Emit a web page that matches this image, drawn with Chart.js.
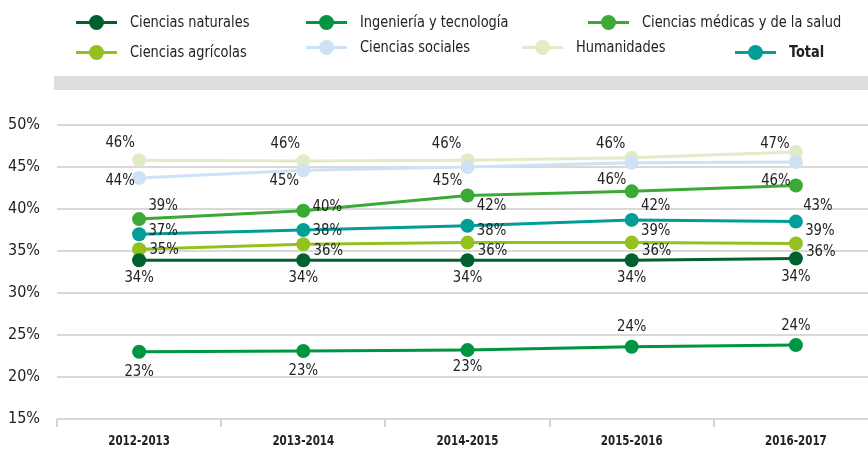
<!DOCTYPE html>
<html lang="es">
<head>
<meta charset="UTF-8">
<title>Porcentaje por área de conocimiento</title>
<style>
  body { margin:0; background:#fff; overflow:hidden; font-family:'DejaVu Sans Condensed','Liberation Sans',sans-serif; }
  .wrap { position:relative; width:868px; height:451px; overflow:hidden; }
  .chart { position:absolute; left:0; top:0; width:885px; height:451px; }
  .band { position:absolute; left:54px; top:76px; width:820px; height:14px; background:#dcdedd; }
  .lg { position:absolute; font-size:16px; color:#222; white-space:nowrap; line-height:18px; }
  .lg span { display:inline-block; transform:scaleX(0.9); transform-origin:left center; }
  .lg i { position:absolute; left:-54px; top:8px; width:41px; height:3px; }
  .lg i:after { content:''; position:absolute; left:13px; top:-6px; width:15px; height:15px; border-radius:50%; background:inherit; }
  .lg.bold { font-weight:bold; }
</style>
</head>
<body>
<div class="wrap">
  <div class="chart"><canvas id="c"></canvas></div>
  <div class="band"></div>
  <div id="legend"></div>
</div>
<script src="https://cdn.jsdelivr.net/npm/chart.js"></script>
<script>
// datos (% por periodo)
const categories = ['2012-2013','2013-2014','2014-2015','2015-2016','2016-2017'];
const naturales   = [33.9, 33.9, 33.9, 33.9, 34.1];
const ingenieria  = [23.0, 23.1, 23.2, 23.6, 23.8];
const medicas     = [38.8, 39.8, 41.6, 42.1, 42.8];
const agricolas   = [35.2, 35.8, 36.0, 36.0, 35.9];
const sociales    = [43.7, 44.6, 45.0, 45.5, 45.6];
const humanidades = [45.8, 45.7, 45.8, 46.1, 46.8];
const total       = [37.0, 37.5, 38.0, 38.7, 38.5];
const yTicks = [15, 20, 25, 30, 35, 40, 45, 50];

const series = [
  { label:'Ciencias sociales', data:sociales, color:'#cfe2f3',
    off:[[-19,3],[-19,10],[-20,14],[-20,17],[-20,19]], lx:360, ly:38 },
  { label:'Humanidades', data:humanidades, color:'#e2ebc8',
    off:[[-19,-17],[-18,-17],[-21,-16],[-21,-14],[-21,-8]], lx:576, ly:38 },
  { label:'Ciencias naturales', data:naturales, color:'#00612f',
    off:[[0,18],[0,18],[0,18],[0,18],[0,18]], lx:130, ly:13 },
  { label:'Ciencias agrícolas', data:agricolas, color:'#95c11f',
    off:[[25,1],[25,7],[25,8],[25,8],[25,8]], lx:130, ly:43 },
  { label:'Total', data:total, color:'#009e97', bold:true,
    off:[[24,-3],[24,1],[24,5],[24,11],[24,9]], lx:789, ly:43 },
  { label:'Ciencias médicas y de la salud', data:medicas, color:'#3aaa35',
    off:[[24,-13],[24,-4],[24,10],[24,14],[22,20]], lx:642, ly:13 },
  { label:'Ingeniería y tecnología', data:ingenieria, color:'#009540',
    off:[[0,20],[0,20],[0,17],[0,-20],[0,-19]], lx:360, ly:13 }
];

// leyenda en HTML
const legend = document.getElementById('legend');
series.forEach(s => {
  const d = document.createElement('div');
  d.className = 'lg' + (s.bold ? ' bold' : '');
  d.style.left = s.lx + 'px';
  d.style.top = s.ly + 'px';
  d.innerHTML = '<i style="background:' + s.color + '"></i><span>' + s.label + '</span>';
  legend.appendChild(d);
});

const FONT = "'DejaVu Sans Condensed','Liberation Sans',sans-serif";

// texto estrecho (simula fuente condensada)
function narrowText(ctx, txt, x, y, sx) {
  ctx.save();
  ctx.translate(x, y);
  ctx.scale(sx, 1);
  ctx.fillText(txt, 0, 0);
  ctx.restore();
}

// etiquetas de valor y del eje x
const valueLabels = {
  id:'valueLabels',
  afterDatasetsDraw(chart) {
    const ctx = chart.ctx;
    ctx.save();
    ctx.fillStyle = '#222';
    ctx.textAlign = 'center';
    ctx.textBaseline = 'middle';
    ctx.font = '16px ' + FONT;
    chart.data.datasets.forEach((ds, i) => {
      const meta = chart.getDatasetMeta(i);
      meta.data.forEach((pt, j) => {
        const o = series[i].off[j];
        narrowText(ctx, Math.round(ds.data[j]) + '%', pt.x + o[0], pt.y + o[1], 0.92);
      });
    });
    const xs = chart.scales.x;
    ctx.font = 'bold 14px ' + FONT;
    categories.forEach((c, k) => {
      narrowText(ctx, c, xs.getPixelForTick(k), xs.top + 22, 0.82);
    });
    ctx.restore();
  }
};

new Chart(document.getElementById('c'), {
  type:'line',
  data:{
    labels:categories,
    datasets:series.map(s => ({
      label:s.label, data:s.data,
      borderColor:s.color, backgroundColor:s.color,
      pointBackgroundColor:s.color, pointBorderWidth:0,
      borderWidth:3, pointRadius:7, pointHoverRadius:7, tension:0
    }))
  },
  options:{
    responsive:true, maintainAspectRatio:false, animation:false,
    layout:{ padding:{ top:125, left:0, right:0, bottom:0 } },
    plugins:{ legend:{ display:false }, tooltip:{ enabled:false } },
    scales:{
      x:{
        offset:true,
        grid:{ offset:true, drawOnChartArea:false, drawTicks:true, tickLength:8, color:'#d4d4d4', lineWidth:2 },
        border:{ display:false },
        ticks:{ display:false },
        afterFit(scale){ scale.height = 32; }
      },
      y:{
        min:15, max:50,
        afterBuildTicks(scale){ scale.ticks = yTicks.map(v => ({ value:v })); },
        grid:{ drawTicks:false, color:'#d9d9d9', lineWidth:2 },
        border:{ display:false },
        ticks:{ color:'#222', padding:17, font:{ family:FONT, size:16 }, callback:v => v + '%' },
        afterFit(scale){ scale.width = 57; }
      }
    }
  },
  plugins:[valueLabels]
});
</script>
</body>
</html>
